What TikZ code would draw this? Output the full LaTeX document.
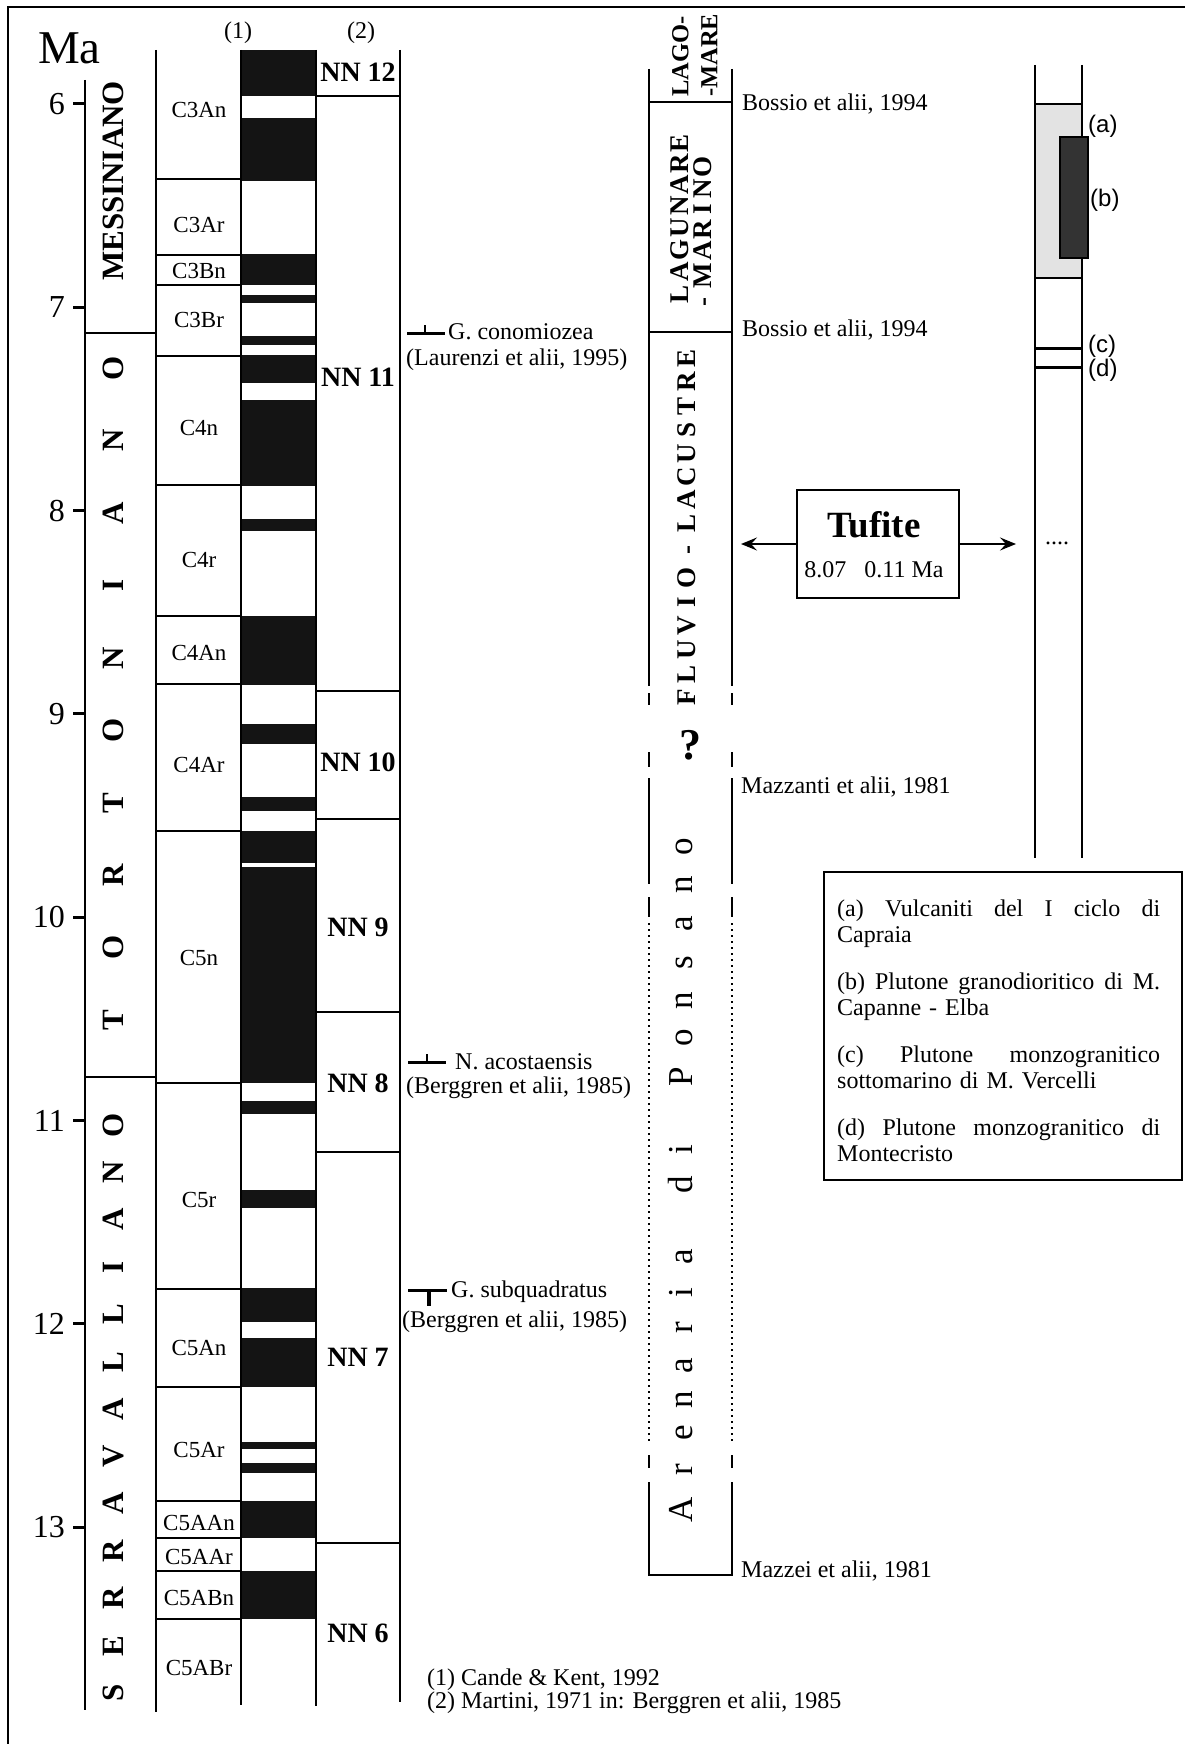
\documentclass[tikz,border=0pt]{standalone}
\usepackage{fontspec}
\setmainfont{Liberation Serif}
\newfontfamily\sansA{Liberation Sans}
\usetikzlibrary{arrows.meta}
\newcommand\fsz[1]{\fontsize{#1}{#1}\selectfont}
\begin{document}
\begin{tikzpicture}[x=1pt,y=-1pt,
  ln/.style={line width=1.7pt},
  lbl/.style={font=\fsz{24}, inner sep=0pt},
  chr/.style={font=\fsz{23}, inner sep=0pt},
  nnl/.style={font=\bfseries\fsz{28}, inner sep=0pt},
  stg/.style={font=\bfseries\fsz{31}, rotate=90, inner sep=0pt, text height=0.66em, text depth=0pt},
  lit/.style={font=\bfseries\fsz{27}, rotate=90, inner sep=0pt, text height=0.66em, text depth=0pt},
  lago/.style={font=\bfseries\fsz{24.5}, rotate=90, inner sep=0pt, text height=0.66em, text depth=0pt, anchor=west},
  aren/.style={font=\fsz{35}, rotate=90, inner sep=0pt, text height=0.68em, text depth=0.2em},
  num/.style={font=\fsz{32}, inner sep=0pt, anchor=east},
  sl/.style={font=\sansA\fsz{24}, inner sep=0pt, anchor=west},
  polblack/.style={fill=black!92},
  dotl/.style={line width=1.7pt, dash pattern=on 1.6pt off 4.4pt},
  tip/.style={-{Stealth[length=16pt,width=13pt,inset=6pt]}, line width=1.8pt},
]
\useasboundingbox (0,0) rectangle (1185,1744);

% outer frame
\draw[line width=2pt] (8,1744) -- (8,7) -- (1185,7);

% Ma axis
\node[font=\fsz{47}, anchor=base west, inner sep=0pt] (ma) at (38,64) {Ma};
\draw[ln] (85,80) -- (85,1710);
\foreach \m in {6,...,13}{
  \coordinate (tk\m) at (85,{104+203.3*(\m-6)});
  \draw[line width=3pt] (tk\m) -- ++(-12,0);
  \node[num] (num\m) at ([xshift=-20pt]tk\m) {\m};
}

% stages
\draw[ln] (85,333) -- (156,333);
\draw[ln] (85,1077) -- (156,1077);
\node[stg] (mess) at (120,181) {MESSINIANO};
\foreach \L [count=\i] in {T,O,R,T,O,N,I,A,N,O}
  \node[stg] (tor\i) at (120,{1020-(\i-1)*72.4}) {\L};
\foreach \L [count=\i] in {S,E,R,R,A,V,A,L,L,I,A,N,O}
  \node[stg] (ser\i) at (120,{1693-(\i-1)*47.33}) {\L};

% polarity column
\foreach \a/\b in {50/96, 118/181, 254/285, 295/303, 336/345, 355/383, 400/486, 519/531, 616/685, 724/744, 797/811, 831/863, 867/1083, 1101/1114, 1190/1208, 1288/1322, 1338/1387, 1442/1449, 1463/1473, 1501/1538, 1571/1619}
  \fill[polblack] (241,\a) rectangle (316,\b);

% chron column
\foreach \y in {179,255,285,356,485,616,684,831,1083,1289,1387,1501,1538,1571,1619}
  \draw[ln] (156,\y) -- (241,\y);
\foreach \t/\y [count=\i] in {C3An/110, C3Ar/225, C3Bn/271, C3Br/320, C4n/428, C4r/560, C4An/653, C4Ar/765, C5n/958, C5r/1200, C5An/1348, C5Ar/1450, C5AAn/1523, C5AAr/1557, C5ABn/1598, C5ABr/1668}
  \node[chr] (chr\i) at (199,\y) {\t};

\draw[ln] (156,50) -- (156,1712);
\draw[ln] (241,50) -- (241,1705);
\draw[ln] (316,50) -- (316,1706);
\draw[ln] (400,50) -- (400,1702);

% NN zones
\foreach \y in {96,691,819,1012,1152,1543} \draw[ln] (316,\y) -- (400,\y);
\foreach \t/\y [count=\i] in {NN 12/72, NN 11/377, NN 10/762, NN 9/927, NN 8/1083, NN 7/1357, NN 6/1633}
  \node[nnl] (nn\i) at (358,\y) {\t};

\node[lbl] (h1) at (238,33) {(1)};
\node[lbl] (h2) at (361,33) {(2)};

% biostratigraphic events
\draw[line width=3pt] (407,333) -- (445,333);
\draw[line width=2.5pt] (425,333) -- (425,325);
\node[lbl, anchor=west] (gcon) at (448,332) {G. conomiozea};
\node[lbl, anchor=west] (gconr) at (406,360) {(Laurenzi et alii, 1995)};

\draw[line width=3pt] (408,1062) -- (446,1062);
\draw[line width=2.5pt] (427,1062) -- (427,1054);
\node[lbl, anchor=west] (nac) at (455,1062) {N. acostaensis};
\node[lbl, anchor=west] (nacr) at (406,1088) {(Berggren et alii, 1985)};

\draw[line width=3pt] (408,1290) -- (447,1290);
\draw[line width=3.5pt] (429,1290) -- (429,1306);
\node[lbl, anchor=west] (gsq) at (451,1292) {G. subquadratus};
\node[lbl, anchor=west] (gsqr) at (402,1322) {(Berggren et alii, 1985)};

% footnotes
\node[lbl, anchor=west] (fn1) at (427,1680) {(1) Cande \& Kent, 1992};
\node[lbl, anchor=west] (fn2) at (427,1703) {(2) Martini, 1971 in: Berggren et alii, 1985};

% lithostratigraphic column
\draw[ln] (649,69) -- (649,686) (732,69) -- (732,686);
\draw[ln] (649,102) -- (732,102) (649,332) -- (732,332);
\draw[ln] (649,693) -- (649,705) (649,752) -- (649,767) (649,778) -- (649,884) (649,897) -- (649,917);
\draw[ln] (732,693) -- (732,705) (732,752) -- (732,767) (732,778) -- (732,884) (732,897) -- (732,917);
\draw[dotl] (649,923) -- (649,1442) (732,923) -- (732,1442);
\draw[ln] (649,1455) -- (649,1468) (732,1455) -- (732,1468);
\draw[ln] (649,1482) -- (649,1575) -- (732,1575) -- (732,1482);

\node[lago] (lago1) at (685,97) {LAGO-};
\node[lago] (lago2) at (714,97) {-MARE};
\foreach \L/\y [count=\i] in {L/294, A/272, G/250, U/228, N/206, A/185, R/164, E/143}
  \node[lit] (lagu\i) at (685,\y) {\L};
\foreach \L/\y [count=\i] in {-/302, M/276, A/251, R/230, I/209, N/189, O/167}
  \node[lit] (mari\i) at (708,\y) {\L};
\foreach \L/\y [count=\i] in {F/697, L/674, U/650, V/626, I/602, O/578, -/550, L/523, A/500, C/477, U/454, S/430, T/406, R/382, E/358}
  \node[lit] (fluv\i) at (692,\y) {\L};
\node[font=\bfseries\fsz{44}, inner sep=0pt] (qm) at (690,745) {?};
\foreach \L/\y [count=\i] in {A/1510, r/1470, e/1433, n/1400, a/1366, r/1328, i/1293, a/1257, d/1185, i/1150, P/1077, o/1038, n/1001, s/963, a/924, n/885, o/847}
  \node[aren] (aren\i) at (690,\y) {\L};

\node[lbl, anchor=west] (bos1) at (742,104) {Bossio et alii, 1994};
\node[lbl, anchor=west] (bos2) at (742,330) {Bossio et alii, 1994};
\node[lbl, anchor=west] (mazz1) at (741,787) {Mazzanti et alii, 1981};
\node[lbl, anchor=west] (mazz2) at (741,1571) {Mazzei et alii, 1981};

% Tufite box
\node[draw, line width=1.8pt, minimum width=162pt, minimum height=108pt, inner sep=0pt] (tuf) at (878,544) {};
\node[font=\bfseries\fsz{37}, inner sep=0pt] (tuft) at (874,525) {Tufite};
\node[font=\fsz{24}, inner sep=0pt] (tufa) at (874,570) {8.07\hspace{18pt}0.11 Ma};
\coordinate (al) at (741,544);
\coordinate (ar) at (1016,544);
\draw[tip] (tuf.west) -- (al);
\draw[tip] (tuf.east) -- (ar);

% igneous column
\fill[gray!22] (1035,104) rectangle (1082,278);
\draw[ln] (1035,65) -- (1035,858) (1082,65) -- (1082,858);
\draw[ln] (1035,104) -- (1082,104) (1035,278) -- (1082,278);
\draw[line width=1.2pt, fill=black!80] (1060,137) rectangle (1088,258);
\draw[line width=3pt] (1035,348) -- (1082,348);
\draw[line width=3pt] (1035,367) -- (1082,367);
\node[sl] (la) at (1088,126) {(a)};
\node[sl] (lb) at (1090,200) {(b)};
\node[sl] (lc) at (1088,346) {(c)};
\node[sl] (ld) at (1088,370) {(d)};
\node[font=\fsz{24}, inner sep=0pt] (dots) at (1057,543) {....};

% legend
\node[draw, line width=1.8pt, minimum width=358pt, minimum height=308pt, inner sep=0pt] (leg) at (1003,1026) {};
\node[font=\fontsize{24}{25.5}\selectfont, inner sep=0pt, anchor=north west, text width=323pt, align=left] (legt) at (837,900) {%
\leavevmode\hbox to \linewidth{(a)\hfill Vulcaniti\hfill del\hfill I\hfill ciclo\hfill di}\\
Capraia\\[22pt]
\leavevmode\hbox to \linewidth{(b)\hfill Plutone\hfill granodioritico\hfill di\hfill M.}\\
Capanne - Elba\\[22pt]
\leavevmode\hbox to \linewidth{(c)\hfill Plutone\hfill monzogranitico}\\
sottomarino di M. Vercelli\\[22pt]
\leavevmode\hbox to \linewidth{(d)\hfill Plutone\hfill monzogranitico\hfill di}\\
Montecristo};
\end{tikzpicture}
\end{document}
